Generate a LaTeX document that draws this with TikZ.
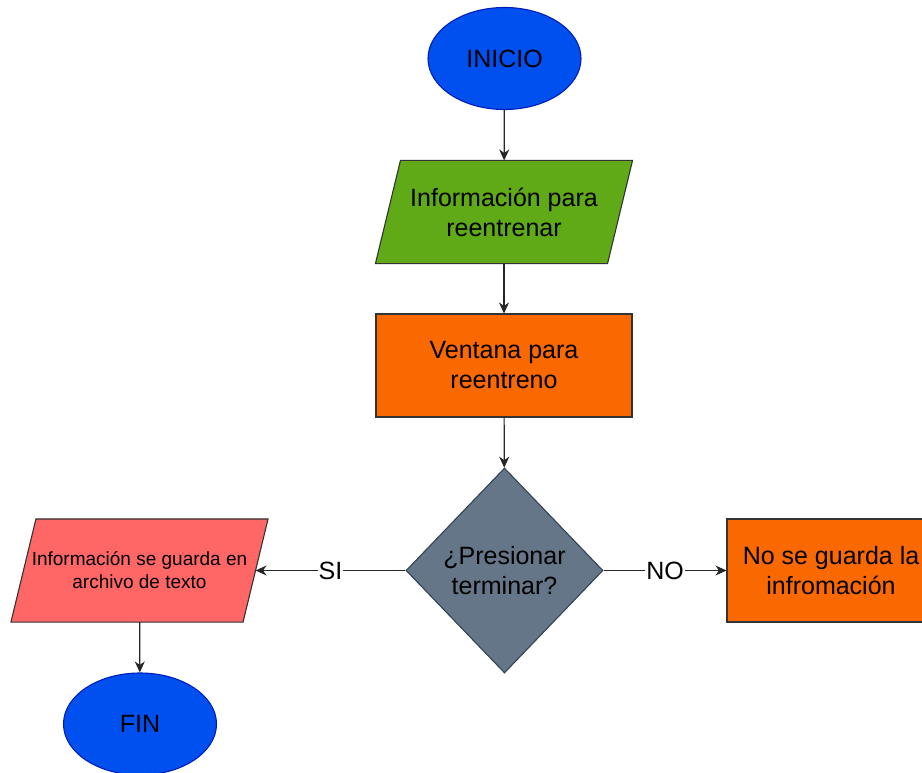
\documentclass[tikz,border=0pt]{standalone}
\usepackage{fontspec}
\setmainfont{Liberation Sans}
\usetikzlibrary{arrows.meta,shapes.geometric,backgrounds}

\definecolor{inicioblue}{HTML}{0050EF}
\definecolor{inicioedge}{HTML}{001DBC}
\definecolor{infogreen}{HTML}{60A917}
\definecolor{ventorange}{HTML}{FA6800}
\definecolor{pregslate}{HTML}{647687}
\definecolor{pregedge}{HTML}{314354}
\definecolor{guardared}{HTML}{FF6666}

\begin{document}
\begin{tikzpicture}[x=1pt,y=-1pt,
    base/.style={line width=1.1pt,align=center,inner sep=0pt,font=\fontsize{25}{30}\selectfont},
    startstop/.style={base,ellipse,draw=inicioedge,fill=inicioblue,minimum width=153pt,minimum height=102pt},
    datain/.style={base,rectangle,minimum width=231pt,minimum height=102pt},
    slant/.style={line width=1.1pt,draw=black!80},
    process/.style={base,rectangle,draw=black!80,fill=ventorange,minimum height=103pt},
    decision/.style={base,diamond,draw=pregedge,fill=pregslate,minimum width=197pt,minimum height=205pt},
    flow/.style={-{Stealth[length=11pt,width=10pt,inset=3.5pt]},line width=1.2pt,draw=black!85},
    answer/.style={fill=white,inner sep=1pt,font=\fontsize{25}{30}\selectfont}]
    \useasboundingbox (0,0) rectangle (922,773);
           \node[startstop] (inicio) at (504.5,58.5) {INICIO};
           \node[datain] (info) at (504,212) {Información para\\reentrenar};
           \node[process,minimum width=256pt] (ventana) at (504,365.5) {Ventana para\\reentreno};
           \node[decision] (presionar) at (504.5,570.5) {¿Presionar\\terminar?};
           \node[datain,font=\fontsize{19}{23}\selectfont] (guarda) at (139.5,570.5) {Información se guarda en\\archivo de texto};
           \node[process,minimum width=208pt] (noguarda) at (831,570.5) {No se guarda la\\infromación};
           \node[startstop] (fin) at (140,724) {FIN};
           % parallelogram outlines behind the text
           \begin{scope}[on background layer]
           \foreach \n/\c in {info/infogreen,guarda/guardared}
             \draw[slant,fill=\c] ([xshift=12.5pt]\n.north west) -- ([xshift=12.5pt]\n.north east)
               -- ([xshift=-12.5pt]\n.south east) -- ([xshift=-12.5pt]\n.south west) -- cycle;
           \end{scope}
           \draw[flow] (inicio) -- (info);
           \draw[flow] (info) -- (ventana);
           \draw[flow] (ventana) -- (presionar);
           \draw[flow] (presionar) -- node[answer] (si) {SI} (guarda);
           \draw[flow] (presionar) -- node[answer] (no) {NO} (noguarda);
           \draw[flow] (guarda) -- (fin);
        \end{tikzpicture}
\end{document}
